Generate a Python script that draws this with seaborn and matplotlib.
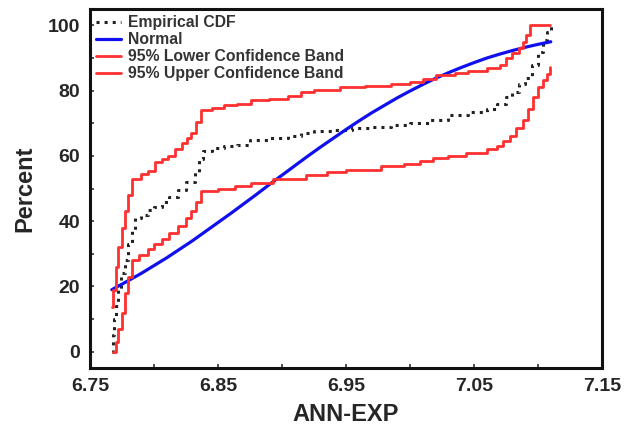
import matplotlib
matplotlib.use("Agg")
import matplotlib.pyplot as plt
import seaborn as sns
import pandas as pd
import numpy as np
from matplotlib.ticker import MultipleLocator

# values
ecdf_x = [6.767, 6.768, 6.769, 6.770, 6.772, 6.774, 6.777, 6.780, 6.783, 6.785,
          6.790, 6.795, 6.800, 6.806, 6.812, 6.819, 6.825, 6.832, 6.835, 6.838,
          6.845, 6.855, 6.865, 6.875, 6.890, 6.905, 6.915, 6.925, 6.940, 6.955,
          6.970, 6.985, 7.000, 7.015, 7.030, 7.045, 7.060, 7.068, 7.075, 7.080,
          7.085, 7.090, 7.095, 7.100, 7.104, 7.107, 7.110]
ecdf_y = [0, 5, 10, 14, 19, 24, 28, 33, 37, 41,
          42, 43.5, 44.5, 46, 47.5, 49.5, 52, 55, 59, 61.5,
          62.5, 63, 63.5, 65, 65.5, 66, 67, 67.5, 68, 68.5,
          69, 69.5, 70, 71, 72.5, 73.5, 74.5, 76, 78, 79.5,
          82, 84, 88, 92, 95.5, 98, 100]

normal_x = [6.767, 6.78, 6.79, 6.80, 6.81, 6.82, 6.83, 6.84, 6.85, 6.86,
            6.87, 6.88, 6.89, 6.90, 6.91, 6.92, 6.93, 6.94, 6.95, 6.96,
            6.97, 6.98, 6.99, 7.00, 7.01, 7.02, 7.03, 7.04, 7.05, 7.06,
            7.07, 7.08, 7.09, 7.10, 7.11]
normal_y = [19.0, 21.8, 24.0, 26.4, 28.8, 31.4, 34.0, 36.8, 39.6, 42.4,
            45.3, 48.2, 51.2, 54.1, 57.0, 59.9, 62.7, 65.4, 68.1, 70.7,
            73.2, 75.5, 77.8, 79.9, 81.9, 83.8, 85.5, 87.1, 88.6, 90.0,
            91.2, 92.3, 93.3, 94.2, 95.0]

lower_x = [6.767, 6.768, 6.770, 6.772, 6.775, 6.777, 6.780, 6.7826, 6.790, 6.795,
           6.801, 6.806, 6.811, 6.816, 6.822, 6.826, 6.829, 6.833, 6.837, 6.845,
           6.855, 6.865, 6.876, 6.890, 6.905, 6.915, 6.925, 6.945, 6.965, 6.985,
           7.000, 7.010, 7.020, 7.035, 7.045, 7.060, 7.070, 7.075, 7.080, 7.085,
           7.088, 7.091, 7.094, 7.109]
lower_y = [13.7, 19, 26, 32, 38, 43, 48, 53, 54.5, 55.5,
           58, 59, 60, 62, 64, 65.5, 67, 70.5, 74, 74.8,
           75.5, 76, 77, 77.5, 78.5, 79.5, 80.2, 81, 81.5, 82,
           82.7, 83.5, 84.8, 85.3, 86, 87, 88, 90, 91.5, 93,
           95, 97, 100, 100]

upper_x = [6.768, 6.770, 6.772, 6.775, 6.777, 6.780, 6.7826, 6.788, 6.795, 6.800,
           6.806, 6.812, 6.819, 6.825, 6.829, 6.833, 6.837, 6.850, 6.863, 6.876,
           6.893, 6.919, 6.935, 6.950, 6.977, 6.995, 7.008, 7.018, 7.030, 7.044,
           7.060, 7.068, 7.073, 7.078, 7.083, 7.088, 7.092, 7.096, 7.100, 7.104,
           7.107, 7.109]
upper_y = [0, 3, 7, 12, 18, 23, 28, 29.5, 31.5, 33,
           34.5, 36.5, 38.5, 41, 43, 46, 49.2, 50, 50.7, 51.8,
           53, 54.3, 55, 55.8, 56.8, 57.6, 58.3, 59.4, 60, 60.9,
           62, 63, 64.5, 66, 68.5, 71, 74.5, 78, 81, 83.2,
           85, 87.3]

sns.set_theme(style="white")
plt.rcParams['font.family'] = ['Liberation Sans', 'DejaVu Sans']
plt.rcParams['font.weight'] = 'bold'

fig = plt.figure(figsize=(6.34, 4.34), dpi=100)
ax = fig.add_axes([0.142, 0.152, 0.8075, 0.827])

sns.lineplot(x=ecdf_x, y=ecdf_y, ax=ax, color='#222222', linestyle=':', linewidth=2.2,
             drawstyle='steps-post', label='Empirical CDF')
sns.lineplot(x=normal_x, y=normal_y, ax=ax, color='#1010ee', linewidth=2.3,
             label='Normal')
sns.lineplot(x=lower_x, y=lower_y, ax=ax, color='#ff3030', linewidth=2.0,
             drawstyle='steps-post', label='95% Lower Confidence Band')
sns.lineplot(x=upper_x, y=upper_y, ax=ax, color='#ff3030', linewidth=2.0,
             drawstyle='steps-post', label='95% Upper Confidence Band')

ax.set_xlim(6.75, 7.15)
ax.set_ylim(-5, 105)
ax.set_xticks([6.75, 6.85, 6.95, 7.05, 7.15])
ax.set_xticklabels(['6.75', '6.85', '6.95', '7.05', '7.15'])
ax.set_yticks([0, 20, 40, 60, 80, 100])
ax.xaxis.set_minor_locator(MultipleLocator(0.05))
ax.yaxis.set_minor_locator(MultipleLocator(10))
ax.tick_params(which='both', direction='in', length=3, width=1.2, color='#333333',
               bottom=True, left=True, labelsize=14, pad=7)

for s in ax.spines.values():
    s.set_color('#111111')
    s.set_linewidth(2.2)

ax.set_xlabel('ANN-EXP', fontsize=17, fontweight='bold', labelpad=6)
ax.set_ylabel('Percent', fontsize=17, fontweight='bold', labelpad=8)

leg = ax.legend(loc='upper left', frameon=False, fontsize=11.3, handlelength=1.6,
                handletextpad=0.4, labelspacing=0.12, borderaxespad=0.2,
                borderpad=0.2)
for t in leg.get_texts():
    t.set_color('#333333')

fig.savefig('out.png', dpi=100)
